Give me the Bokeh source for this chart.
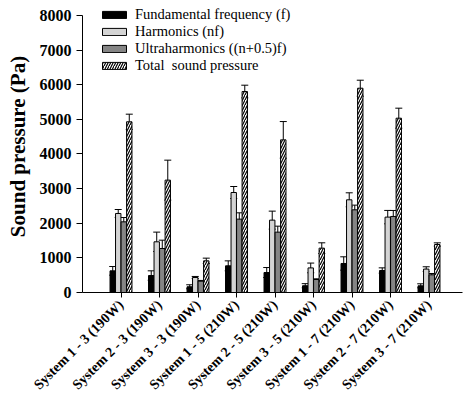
import math
from bokeh.plotting import figure
from bokeh.models import (ColumnDataSource, Range1d, FixedTicker, Whisker, TeeHead,
                          Legend, LegendItem)
from bokeh.embed import file_html
from bokeh.resources import INLINE

categories = ["System 1 - 3 (190W)", "System 2 - 3 (190W)", "System 3 - 3 (190W)",
              "System 1 - 5 (210W)", "System 2 - 5 (210W)", "System 3 - 5 (210W)",
              "System 1 - 7 (210W)", "System 2 - 7 (210W)", "System 3 - 7 (210W)"]
fundamental = [625, 490, 165, 770, 577, 195, 838, 635, 193]
fundamental_err = [125, 136, 58, 144, 144, 60, 193, 77, 58]
harmonics = [2282, 1464, 433, 2888, 2090, 710, 2677, 2177, 676]
harmonics_err = [115, 280, 30, 173, 260, 140, 202, 193, 67]
ultra = [2041, 1271, 328, 2119, 1743, 375, 2388, 2196, 511]
ultra_err = [125, 240, 20, 182, 173, 20, 135, 173, 38]
total = [4930, 3245, 915, 5804, 4408, 1281, 5900, 5034, 1386]
total_err = [220, 577, 77, 183, 529, 154, 231, 289, 48]
series_names = ["Fundamental frequency (f)", "Harmonics (nf)",
                "Ultraharmonics ((n+0.5)f)", "Total  sound pressure"]
y_ticks = [0, 1000, 2000, 3000, 4000, 5000, 6000, 7000, 8000]

FONT = "Liberation Serif"
p = figure(width=463, height=403, output_backend="svg", toolbar_location=None,
           x_range=Range1d(0, 9.87), y_range=Range1d(0, 8433),
           min_border_left=82, min_border_right=1, min_border_top=0,
           min_border_bottom=111)
p.outline_line_color = None
p.xgrid.visible = False
p.ygrid.visible = False

xs = list(range(1, len(categories) + 1))
bw = 0.14
offsets = [-0.215, -0.072, 0.072, 0.215]
values = [fundamental, harmonics, ultra, total]
errs = [fundamental_err, harmonics_err, ultra_err, total_err]
styles = [dict(fill_color="black"), dict(fill_color="#d4d4d4"),
          dict(fill_color="#858585"),
          dict(fill_color="white", hatch_pattern="right_diagonal_line", hatch_color="black",
               hatch_scale=5, hatch_weight=1.2)]
renderers = []
for off, vals, er, st in zip(offsets, values, errs, styles):
    src = ColumnDataSource(dict(x=[x + off for x in xs], top=vals,
                                upper=[v + e for v, e in zip(vals, er)],
                                lower=[v - e for v, e in zip(vals, er)]))
    r = p.vbar(x="x", top="top", width=bw, source=src, line_color="black",
               line_width=1, **st)
    renderers.append(r)
    w = Whisker(source=src, base="x", upper="upper", lower="lower",
                line_color="black", line_width=1,
                upper_head=TeeHead(size=7, line_color="black", line_width=1),
                lower_head=TeeHead(size=7, line_color="black", line_width=1))
    p.add_layout(w)

legend = Legend(items=[LegendItem(label=n, renderers=[r]) for n, r in zip(series_names, renderers)],
                glyph_width=30, glyph_height=9, label_height=10,
                spacing=-3, padding=0, margin=0, border_line_color=None,
                background_fill_alpha=0, label_text_font=FONT, label_text_color="black",
                label_text_font_size="14.5px", label_standoff=6, label_text_line_height=1.0)
p.add_layout(legend)
legend.location = (17, 218)

for ax in (p.xaxis, p.yaxis):
    ax.axis_line_color = "black"
    ax.major_tick_line_color = "black"
    ax.major_label_text_color = "black"
    ax.axis_label_text_color = "black"
    ax.minor_tick_line_color = None
    ax.major_tick_in = 0
    ax.major_label_text_font = FONT
    ax.major_label_text_font_style = "bold"

p.yaxis.ticker = FixedTicker(ticks=y_ticks)
p.yaxis.bounds = (0, 8000)
p.yaxis.major_tick_out = 6
p.yaxis.major_label_text_font_size = "16px"
p.yaxis.axis_label = "Sound pressure (Pa)"
p.yaxis.axis_label_text_font = FONT
p.yaxis.axis_label_text_font_style = "bold"
p.yaxis.axis_label_text_font_size = "21px"
p.yaxis.axis_label_standoff = 7

p.xaxis.ticker = FixedTicker(ticks=xs)
p.xaxis.major_label_overrides = {x: c for x, c in zip(xs, categories)}
p.xaxis.major_tick_out = 5
p.xaxis.major_label_orientation = math.pi / 4
p.xaxis.major_label_text_font_size = "14px"

open("out.html", "w").write(file_html(p, INLINE))
